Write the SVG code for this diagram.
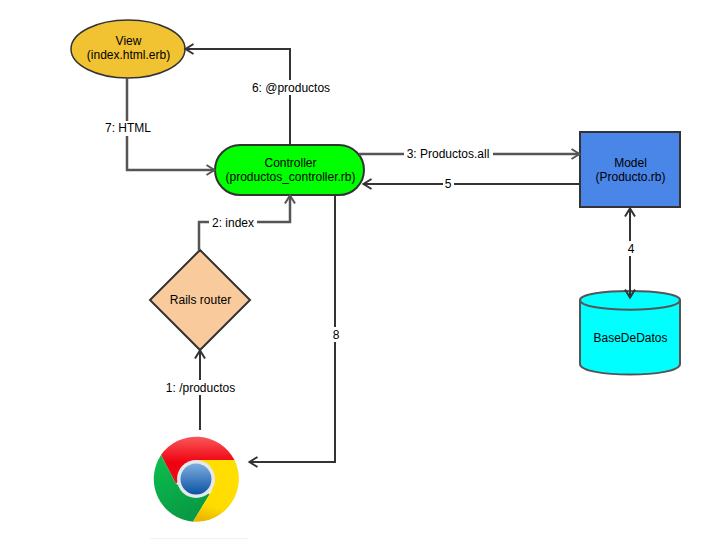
<svg xmlns="http://www.w3.org/2000/svg" width="706" height="559" viewBox="0 0 706 559">
<style>
text{font-family:"Liberation Sans",Arial,sans-serif;font-size:12px;fill:#000;text-anchor:middle}
.n{stroke:#333;stroke-width:2}
.c{fill:none;stroke:#333;stroke-width:2}
.g{stroke:#555;stroke-width:2.500}
.bg{fill:#fff}
</style>
<defs>
<marker id="a" markerUnits="userSpaceOnUse" markerWidth="14" markerHeight="14" refX="11" refY="7" orient="auto-start-reverse" overflow="visible"><path d="M2.500 2 L10.500 7 L2.500 12" fill="none" stroke="#333" stroke-width="2" stroke-linejoin="miter"/></marker>
<marker id="b" markerUnits="userSpaceOnUse" markerWidth="14" markerHeight="14" refX="11" refY="7" orient="auto-start-reverse" overflow="visible"><path d="M2.500 2 L10.500 7 L2.500 12" fill="none" stroke="#555" stroke-width="2" stroke-linejoin="miter"/></marker>
<linearGradient id="gr" x1="0" y1="0" x2="0" y2="1"><stop offset="0" stop-color="#f8585a"/><stop offset=".55" stop-color="#f0000f"/><stop offset="1" stop-color="#e8101a"/></linearGradient>
<linearGradient id="gg" x1="0" y1="0" x2=".4" y2="1"><stop offset="0" stop-color="#0cc04e"/><stop offset="1" stop-color="#089a44"/></linearGradient>
<linearGradient id="gy" x1=".6" y1="0" x2=".4" y2="1"><stop offset="0" stop-color="#ffdf00"/><stop offset=".75" stop-color="#ffdc00"/><stop offset="1" stop-color="#eab800"/></linearGradient>
<linearGradient id="gb" x1="0" y1="0" x2="0" y2="1"><stop offset="0" stop-color="#7fadde"/><stop offset="1" stop-color="#0a52a4"/></linearGradient>
</defs>
<rect width="706" height="559" fill="#fff"/>
<g id="view"><ellipse cx="128" cy="49" rx="57" ry="29" fill="#f1c232" stroke="#333" stroke-width="1.500"/><text x="128.500" y="45">View</text><text x="128.500" y="59">(index.html.erb)</text></g>
<g id="controller"><rect class="n" x="215" y="145" width="149" height="50" rx="25" fill="#0f0"/><text x="290.500" y="167">Controller</text><text x="290.500" y="181">(productos_controller.rb)</text></g>
<g id="model"><rect class="n" x="580" y="132" width="100" height="75" fill="#4a86e8"/><text x="630.500" y="167">Model</text><text x="630.500" y="181">(Producto.rb)</text></g>
<g id="database"><path d="M580 300C580 288 680 288 680 300V364C680 378 580 378 580 364Z" fill="#0ff" stroke="#555" stroke-width="2"/><path d="M580 300C580 313 680 313 680 300" fill="none" stroke="#555" stroke-width="2"/><text x="630.500" y="342">BaseDeDatos</text></g>
<g id="router"><path class="n" d="M200 250L250 300L200 350L150 300Z" fill="#f9cb9c"/><text x="200.500" y="304">Rails router</text></g>
<g id="browser">
<path d="M161 455A43 43 0 0 1 234.500 460H196L176 484Z" fill="url(#gr)"/>
<path d="M161 455A43 43 0 0 0 193 521.700L210 494L176 484Z" fill="url(#gg)"/>
<path d="M234.500 460A43 43 0 0 1 193 521.700L212 490L196 460Z" fill="url(#gy)"/>
<circle cx="196" cy="479" r="19" fill="#e6e8ec"/>
<circle cx="196" cy="479" r="15.500" fill="url(#gb)"/>
<path d="M150 538.500H248" stroke="#f2f2f2" stroke-width="1"/>
</g>
<g id="connectors">
<path class="c" d="M290 145V49H185" marker-end="url(#a)"/>
<path class="c g" d="M127 78V170H215" marker-end="url(#b)"/>
<path class="c g" d="M199 250V222H290V195" marker-end="url(#b)"/>
<path class="c" d="M200 430V350" marker-end="url(#a)"/>
<path class="c" d="M335 195V462H249" marker-end="url(#a)"/>
<path class="c g" d="M359 154H580" marker-end="url(#b)"/>
<path class="c" d="M580 184H363" marker-end="url(#a)"/>
<path class="c" d="M630 298V208" marker-start="url(#a)" marker-end="url(#a)"/>
</g>
<g id="edge-labels">
<rect class="bg" x="250" y="80" width="82" height="15"/><text x="291" y="91.500">6: @productos</text>
<rect class="bg" x="103" y="121" width="50" height="15"/><text x="128" y="132">7: HTML</text>
<rect class="bg" x="209" y="215" width="48" height="15"/><text x="233" y="227">2: index</text>
<rect class="bg" x="164" y="380" width="73" height="15"/><text x="200.500" y="392">1: /productos</text>
<rect class="bg" x="331" y="327" width="10" height="15"/><text x="336" y="339">8</text>
<rect class="bg" x="404" y="147" width="89" height="15"/><text x="448" y="158">3: Productos.all</text>
<rect class="bg" x="443" y="176" width="11" height="15"/><text x="448" y="188">5</text>
<rect class="bg" x="625" y="241" width="10" height="15"/><text x="631" y="253">4</text>
</g>
</svg>
